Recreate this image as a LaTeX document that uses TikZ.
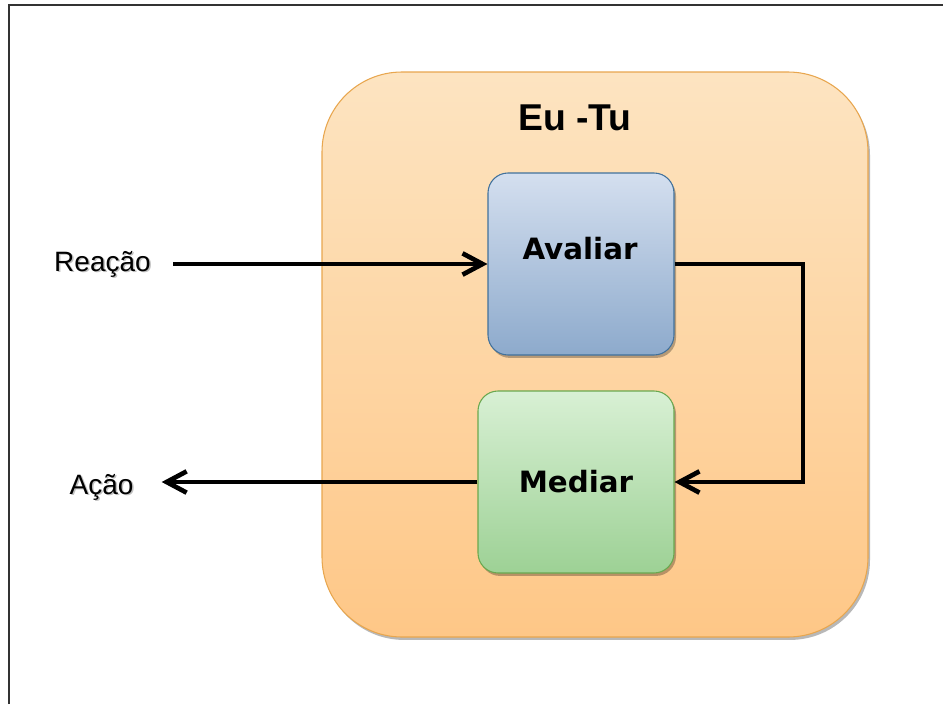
\documentclass[tikz,border=0pt]{standalone}
\usepackage{fontspec}
\setmainfont{Liberation Sans}
\newfontfamily\boxfont{DejaVu Sans}
\usetikzlibrary{arrows.meta,shadows,calc}

\definecolor{outerTop}{HTML}{FDE4C1}
\definecolor{outerBot}{HTML}{FEC787}
\definecolor{outerLine}{HTML}{E8A64E}
\definecolor{blueTop}{HTML}{D4DFEF}
\definecolor{blueBot}{HTML}{8DAACC}
\definecolor{blueLine}{HTML}{41719C}
\definecolor{greenTop}{HTML}{D8F0D4}
\definecolor{greenBot}{HTML}{9DD195}
\definecolor{greenLine}{HTML}{6AA84F}
\definecolor{frameCol}{HTML}{333333}

\tikzset{
  softshadow/.style={drop shadow={shadow xshift=1.5pt, shadow yshift=-2.2pt, opacity=0.28, fill=black}},
  outerbox/.style={rounded corners=60pt, minimum width=409.5pt, minimum height=423.75pt,
    top color=outerTop, bottom color=outerBot, draw=outerLine, line width=0.8pt, softshadow},
  stagebox/.style={rounded corners=15pt, minimum height=136.5pt, line width=0.8pt, softshadow},
  bluebox/.style={stagebox, minimum width=139.5pt, top color=blueTop, bottom color=blueBot, draw=blueLine},
  greenbox/.style={stagebox, minimum width=147pt, top color=greenTop, bottom color=greenBot, draw=greenLine},
  boxlabel/.style={font=\boxfont\bfseries\fontsize{22}{26}\selectfont, text=black, inner sep=0pt},
  sidelabel/.style={font=\fontsize{21}{25}\selectfont, text=black, inner sep=0pt},
  sideshadow/.style={sidelabel, text=black!70, opacity=0.35},
  conn/.style={line width=3.5pt, black, -{Straight Barb[length=15pt, width=16pt, line width=3.5pt]}},
}

\begin{document}
\begin{tikzpicture}[x=0.75pt, y=-0.75pt]
  \useasboundingbox (0,0) rectangle (943,704);

  % page frame (left and top edges)
  \draw[frameCol, line width=1.2pt] (9,704) -- (9,5) -- (943,5);

  % the I-Thou container
  \node[outerbox] (eutu) at (595,354.5) {};
  \node[font=\bfseries\fontsize{28}{32}\selectfont, inner sep=0pt] (title) at (575,118) {Eu -Tu};

  % stages
  \node[bluebox] (av) at (581,264) {};
  \node[boxlabel] (avtxt) at (580,249) {Avaliar};
  \node[greenbox] (me) at (576,482) {};
  \node[boxlabel] (metxt) at (576,482) {Mediar};

  % outside labels, with their soft shadow
  \node[sideshadow] (reash) at (104,265.5) {Reação};
  \node[sidelabel] (rea) at (102.5,264) {Reação};
  \node[sideshadow] (acash) at (103,488.5) {Ação};
  \node[sidelabel] (aca) at (101.5,487) {Ação};

  % connectors
  \coordinate (turn) at (803,264);
  \draw[conn, shorten <=16.5pt] (rea.east) -- (av.west);
  \draw[conn] (av.east) -- (turn) |- (me.east);
  \draw[conn, shorten >=21pt] (me.west) -- (aca.east |- me.west);
\end{tikzpicture}
\end{document}
